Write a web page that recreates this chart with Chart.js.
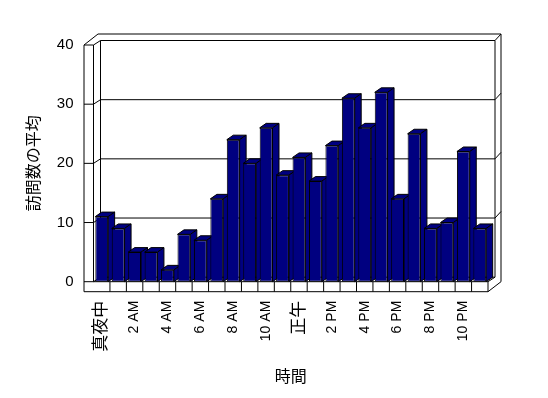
<!DOCTYPE html>
<html>
<head>
<meta charset="utf-8">
<script src="https://cdn.jsdelivr.net/npm/chart.js@4.4.1/dist/chart.umd.min.js"></script>
<style>
  html, body { margin: 0; background: #fff; }
  #wrap { width: 548px; height: 398px; }
</style>
</head>
<body>
<div id="wrap"><canvas id="chart"></canvas></div>
<script>
const HOURS = ['真夜中', '1 AM', '2 AM', '3 AM', '4 AM', '5 AM', '6 AM', '7 AM', '8 AM', '9 AM', '10 AM', '11 AM',
  '正午', '1 PM', '2 PM', '3 PM', '4 PM', '5 PM', '6 PM', '7 PM', '8 PM', '9 PM', '10 PM', '11 PM'];
const VISITS = [11, 9, 5, 5, 2, 8, 7, 14, 24, 20, 26, 18, 21, 17, 23, 31, 26, 32, 14, 25, 9, 10, 22, 9];
const Y_TICKS = [0, 10, 20, 30, 40];

const NAVY = '#000080';
const FONT = "'Liberation Sans', 'Noto Sans CJK JP', sans-serif";
const CJK = /[\u3000-\u9fff]/;

// 3d offsets (px): bar depth, back wall, outer wall edge
const BAR_D = { dx: 6.5, dy: 4.5 };
const WALL_D = { dx: 7, dy: 4.5 };
const LEFT_W = 9.5;
const FLOOR_H = 10;

function line(ctx, pts) {
  ctx.beginPath();
  pts.forEach(([x, y], i) => i ? ctx.lineTo(x, y) : ctx.moveTo(x, y));
  ctx.stroke();
}

function poly(ctx, pts) {
  ctx.beginPath();
  pts.forEach(([x, y], i) => i ? ctx.lineTo(x, y) : ctx.moveTo(x, y));
  ctx.closePath();
  ctx.fill();
  ctx.stroke();
}

const box3d = {
  id: 'box3d',
  beforeDatasetsDraw(chart) {
    const { ctx, chartArea: a, scales: { y } } = chart;
    const L = a.left, R = a.right, T = a.top, B = a.bottom;
    const wx = WALL_D.dx, wy = WALL_D.dy;
    ctx.save();
    ctx.strokeStyle = '#000';
    ctx.lineWidth = 1;

    // walls outline
    line(ctx, [[L - LEFT_W, B + FLOOR_H], [L - LEFT_W, T], [L + 4.5, T - 11], [R + 13, T - 11], [R + 13, B]]);
    line(ctx, [[L, T], [L, B]]);
    line(ctx, [[L + wx, T - wy], [L + wx, B - wy]]);
    line(ctx, [[R + wx, T - wy], [R + wx, B - wy]]);

    // grid lines through left wall, back wall, right edge
    Y_TICKS.forEach(v => {
      const yy = y.getPixelForValue(v);
      line(ctx, [[L - LEFT_W, yy], [L, yy], [L + wx, yy - wy], [R + wx, yy - wy]]);
      if (v > 0) line(ctx, [[R + wx, yy - wy], [R + 13, yy - 11]]);
    });

    // floor front face with category ticks
    line(ctx, [[L - LEFT_W, B + FLOOR_H], [R, B + FLOOR_H], [R + 13, B]]);
    line(ctx, [[L, B], [R, B], [R + wx, B - wy]]);
    const n = HOURS.length;
    for (let k = 1; k <= n; k++) {
      const xx = L + k * (R - L) / n;
      line(ctx, [[xx, B], [xx, B + FLOOR_H]]);
    }

    // bar tops and sides
    ctx.fillStyle = NAVY;
    chart.getDatasetMeta(0).data.forEach(bar => {
      const { x, y: top, base, width } = bar.getProps(['x', 'y', 'base', 'width'], true);
      const l = x - width / 2, r = x + width / 2;
      poly(ctx, [[l, top], [l + BAR_D.dx, top - BAR_D.dy], [r + BAR_D.dx, top - BAR_D.dy], [r, top]]);
      poly(ctx, [[r, top], [r + BAR_D.dx, top - BAR_D.dy], [r + BAR_D.dx, base - BAR_D.dy], [r, base]]);
    });
    ctx.restore();
  }
};

new Chart(document.getElementById('chart'), {
  type: 'bar',
  data: {
    labels: HOURS,
    datasets: [{
      data: VISITS,
      backgroundColor: NAVY,
      borderColor: '#000',
      borderWidth: 1,
      borderSkipped: false,
      barPercentage: 0.78,
      categoryPercentage: 1
    }]
  },
  options: {
    responsive: true,
    maintainAspectRatio: false,
    animation: false,
    layout: { padding: { top: 45, right: 60, bottom: 0, left: 0 } },
    plugins: { legend: { display: false }, tooltip: { enabled: false } },
    scales: {
      x: {
        grid: { display: false, drawTicks: false },
        border: { display: false },
        ticks: {
          autoSkip: false,
          minRotation: 90,
          maxRotation: 90,
          padding: 19,
          color: '#000',
          font: c => ({ family: FONT, size: CJK.test(HOURS[c.index] || '') ? 17 : 14 }),
          callback: (v, i) => i % 2 === 0 ? HOURS[i] : ''
        },
        title: { display: true, text: '時間', color: '#000', font: { family: FONT, size: 16 }, padding: { top: 0, bottom: 11 } },
        afterFit: s => { s.height = 398 - 281.7; }
      },
      y: {
        min: Y_TICKS[0],
        max: Y_TICKS[Y_TICKS.length - 1],
        grid: { display: false, drawTicks: false },
        border: { display: false },
        ticks: { stepSize: 10, padding: 20, color: '#000', font: { family: FONT, size: 15 } },
        title: { display: true, text: '訪問数の平均', color: '#000', font: { family: FONT, size: 16 }, padding: { top: 25, bottom: 0 } },
        afterFit: s => { s.width = 93.5; }
      }
    }
  },
  plugins: [box3d]
});
</script>
</body>
</html>
